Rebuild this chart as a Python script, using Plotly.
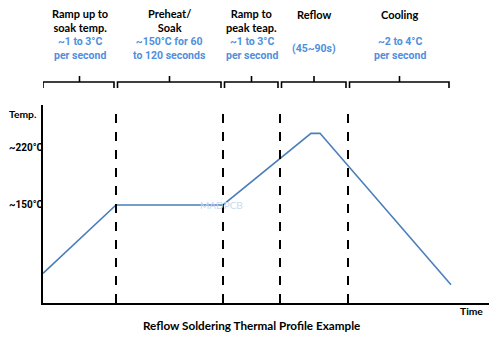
import plotly.graph_objects as go

# Data (time in s, temperature in °C) - schematic profile
time_s = [0, 73, 180, 268, 277, 408]
temp_c = [66, 150, 150, 238, 238, 52]

# Phase boundaries (time)
boundaries = [73, 180, 237, 305]
phase_edges = [0, 73, 180, 237, 305, 408]
phase_titles = ["Ramp up to<br>soak temp.", "Preheat/<br>Soak", "Ramp to<br>peak teap.", "Reflow", "Cooling"]
phase_notes = ["~1 to 3°C<br>per second", "~150°C for 60<br>to 120 seconds", "~1 to 3°C<br>per second", "(45~90s)", "~2 to 4°C<br>per second"]

y_ticks = [150, 220]
y_labels = ["~150°C", "~220°C"]

W, H = 500, 338
ML, MR, MT, MB = 43, 11, 105, 35
PH = H - MT - MB
FONT = "Lato"
FONT2 = "Roboto"
TXT_BLUE = "#4F8FDC"
LINE_BLUE = "#4A7EBB"

def py2paper(py):
    return (H - MB - py) / PH

fig = go.Figure()
fig.add_trace(go.Scatter(x=time_s, y=temp_c, mode="lines",
                         line=dict(color=LINE_BLUE, width=1.6), showlegend=False,
                         hoverinfo="skip"))

shapes = []
for b in boundaries:
    shapes.append(dict(type="line", xref="x", yref="paper", x0=b, x1=b, y0=0, y1=1,
                       line=dict(color="black", width=2, dash="dash")))

# braces
yb = py2paper(82)
ye = py2paper(88)
yt = py2paper(76)
for i in range(5):
    a = phase_edges[i] + (0 if i == 0 else 1.5)
    b = phase_edges[i + 1] - 2
    m = (phase_edges[i] + phase_edges[i + 1]) / 2
    shapes.append(dict(type="path", xref="x", yref="paper",
                       path=f"M {a},{ye} L {a},{yb} L {b},{yb} L {b},{ye}",
                       line=dict(color="black", width=1.6)))
    shapes.append(dict(type="line", xref="x", yref="paper", x0=m, x1=m, y0=yb, y1=yt,
                       line=dict(color="black", width=1.6)))

annotations = []
for i in range(5):
    m = (phase_edges[i] + phase_edges[i + 1]) / 2
    two = "<br>" in phase_titles[i]
    annotations.append(dict(x=m, xref="x", y=py2paper(21 if two else 14), yref="paper",
                            text=f"<b>{phase_titles[i]}</b>", showarrow=False,
                            xanchor="center", yanchor="middle",
                            font=dict(family=FONT, size=11, color="black")))
    annotations.append(dict(x=m, xref="x", y=py2paper(49), yref="paper",
                            text=f"<b>{phase_notes[i]}</b>", showarrow=False,
                            xanchor="center", yanchor="middle",
                            font=dict(family=FONT2, size=10.5, color=TXT_BLUE)))

# y labels
annotations.append(dict(x=0, xref="paper", xshift=-36, y=py2paper(114), yref="paper",
                        text="<b>Temp.</b>", showarrow=False, xanchor="left", yanchor="middle",
                        font=dict(family=FONT, size=10.3, color="black")))
for t, lab in zip(y_ticks, y_labels):
    annotations.append(dict(x=0, xref="paper", xshift=-36, y=t, yref="y", text=f"<b>{lab}</b>",
                            showarrow=False, xanchor="left", yanchor="middle",
                            font=dict(family=FONT2, size=10, color="black")))
annotations.append(dict(x=1, xref="paper", xshift=-4, y=py2paper(311), yref="paper",
                        text="<b>Time</b>", showarrow=False, xanchor="right", yanchor="middle",
                        font=dict(family=FONT, size=10.3, color="black")))
annotations.append(dict(x=208, xref="x", y=py2paper(325), yref="paper",
                        text="<b>Reflow Soldering Thermal Profile Example</b>", showarrow=False,
                        xanchor="center", yanchor="middle",
                        font=dict(family=FONT, size=11.7, color="black")))
annotations.append(dict(x=178, xref="x", y=150, yref="y", text="MADPCB", showarrow=False,
                        xanchor="center", yanchor="middle",
                        font=dict(family=FONT, size=10, color="#C9D9F0")))

fig.update_layout(
    width=W, height=H, margin=dict(l=ML, r=MR, t=MT, b=MB),
    paper_bgcolor="white", plot_bgcolor="white",
    xaxis=dict(range=[0, 446], showgrid=False, zeroline=False, showticklabels=False,
               showline=True, linecolor="black", linewidth=2, ticks=""),
    yaxis=dict(range=[29.6, 272.8], showgrid=False, zeroline=False, showticklabels=False,
               showline=True, linecolor="black", linewidth=2, ticks=""),
    shapes=shapes, annotations=annotations,
)
fig.write_html("out.html")
